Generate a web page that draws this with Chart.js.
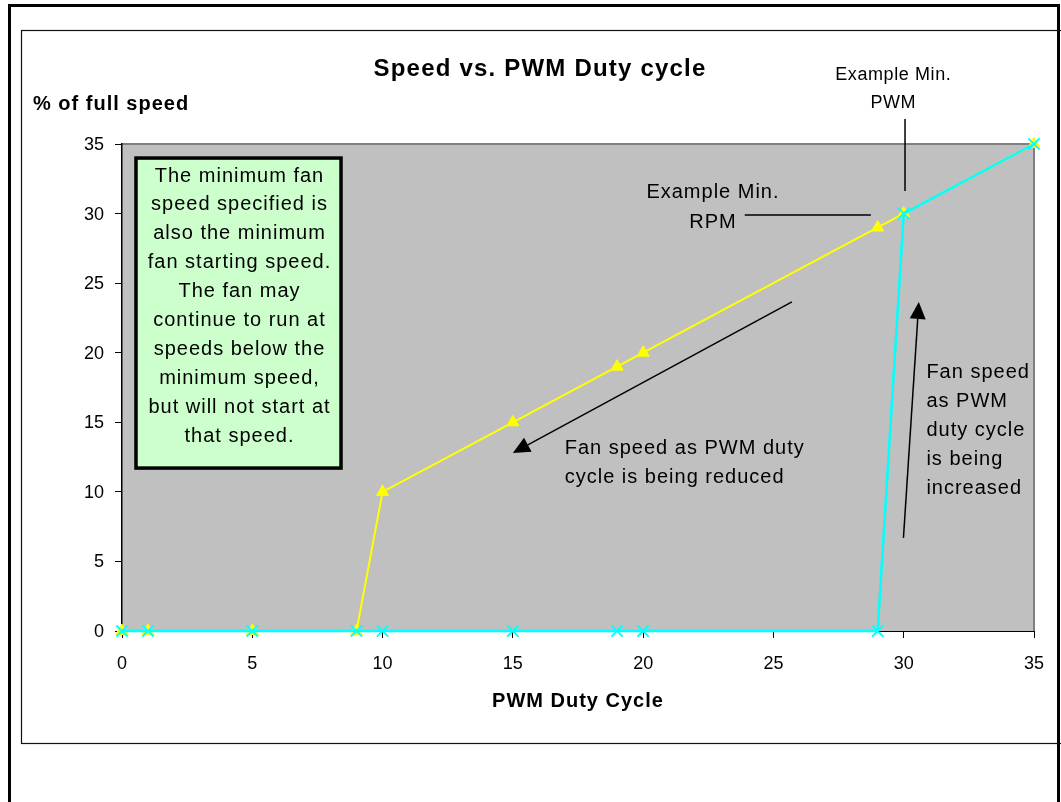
<!DOCTYPE html>
<html><head><meta charset="utf-8">
<script src="https://cdn.jsdelivr.net/npm/chart.js@4.4.0/dist/chart.umd.min.js"></script>
<style>html,body{margin:0;padding:0;background:#fff;overflow:hidden}</style>
</head><body>
<canvas id="c" width="1061" height="802" style="display:block;width:1061px;height:802px"></canvas>
<script>
// ---- data ----
const dutyCycle       = [0, 1, 5, 9, 10, 15, 19, 20, 29, 30, 35];
const speedReducing   = [0, 0, 0, 0, 10, 15, 19, 20, 29, 30, 35];
const speedIncreasing = [0, 0, 0, 0, 0,  0,  0,  0,  0,  30, 35];
const xTickValues = [0, 5, 10, 15, 20, 25, 30, 35];
const yTickValues = [0, 5, 10, 15, 20, 25, 30, 35];
const chartTitle = 'Speed vs. PWM Duty cycle';
const yTitle = '% of full speed';
const xTitle = 'PWM Duty Cycle';
const noteLines = ['The minimum fan','speed specified is','also the minimum','fan starting speed.','The fan may','continue to run at','speeds below the','minimum speed,','but will not start at','that speed.'];
const reducedLines = ['Fan speed as PWM duty','cycle is being reduced'];
const increasedLines = ['Fan speed','as PWM','duty cycle','is being','increased'];
const rpmLines = ['Example Min.','RPM'];
const pwmLines = ['Example Min.','PWM'];

const reducingPts = dutyCycle.map((x,i)=>({x:x,y:speedReducing[i]}));
const increasingPts = dutyCycle.map((x,i)=>({x:x,y:speedIncreasing[i]}));

function arrow(ctx,x1,y1,x2,y2){
  const ang=Math.atan2(y2-y1,x2-x1), L=17, W=8;
  const bx=x2-Math.cos(ang)*L, by=y2-Math.sin(ang)*L;
  ctx.strokeStyle='#000'; ctx.lineWidth=1.5;
  ctx.beginPath(); ctx.moveTo(x1,y1); ctx.lineTo(bx,by); ctx.stroke();
  ctx.fillStyle='#000';
  ctx.beginPath(); ctx.moveTo(x2,y2);
  ctx.lineTo(bx+Math.sin(ang)*W, by-Math.cos(ang)*W);
  ctx.lineTo(bx-Math.sin(ang)*W, by+Math.cos(ang)*W);
  ctx.closePath(); ctx.fill();
}

const decor = {
  id:'decor',
  beforeDraw(chart){
    const ctx=chart.ctx, a=chart.chartArea;
    ctx.save();
    ctx.fillStyle='#fff'; ctx.fillRect(0,0,chart.width,chart.height);
    // outer frame
    ctx.strokeStyle='#000'; ctx.lineWidth=3;
    ctx.beginPath(); ctx.moveTo(9.5,810); ctx.lineTo(9.5,5.5); ctx.lineTo(1058.5,5.5); ctx.lineTo(1058.5,810); ctx.stroke();
    // inner frame
    ctx.lineWidth=1.2; ctx.strokeStyle='#111';
    ctx.strokeRect(21.5,30.5,1060,713);
    // plot area
    ctx.fillStyle='#C0C0C0'; ctx.fillRect(a.left,a.top,a.right-a.left,a.bottom-a.top);
    ctx.strokeStyle='#808080'; ctx.lineWidth=2;
    ctx.beginPath(); ctx.moveTo(a.left,a.top); ctx.lineTo(a.right,a.top); ctx.lineTo(a.right,a.bottom); ctx.stroke();
    ctx.restore();
  },
  afterDraw(chart){
    const ctx=chart.ctx, a=chart.chartArea, xs=chart.scales.x, ys=chart.scales.y;
    const X=v=>xs.getPixelForValue(v), Y=v=>ys.getPixelForValue(v);
    ctx.save();
    ctx.fillStyle='#000'; ctx.textBaseline='middle';
    // tick labels
    ctx.font='18px "Liberation Sans", Arial, sans-serif';
    ctx.textAlign='right';
    yTickValues.forEach(v=>ctx.fillText(String(v), a.left-18, Y(v)+1));
    ctx.textAlign='center';
    xTickValues.forEach(v=>ctx.fillText(String(v), X(v), a.bottom+33));
    // titles
    ctx.letterSpacing='1.2px';
    ctx.font='bold 24px "Liberation Sans", Arial, sans-serif';
    ctx.textAlign='center';
    ctx.fillText(chartTitle, 540, 69);
    ctx.letterSpacing='1px';
    ctx.font='bold 20px "Liberation Sans", Arial, sans-serif';
    ctx.textAlign='left';
    ctx.fillText(yTitle, 33, 104);
    ctx.textAlign='center';
    ctx.fillText(xTitle, (a.left+a.right)/2, 701);
    // note box
    const bx0=X(0.537), bx1=X(8.405), by0=Y(33.99), by1=Y(11.71);
    ctx.fillStyle='#CCFFCC'; ctx.fillRect(bx0,by0,bx1-bx0,by1-by0);
    ctx.strokeStyle='#000'; ctx.lineWidth=3.5; ctx.strokeRect(bx0,by0,bx1-bx0,by1-by0);
    ctx.fillStyle='#000';
    ctx.font='20px "Liberation Sans", Arial, sans-serif';
    ctx.textAlign='center';
    noteLines.forEach((t,i)=>ctx.fillText(t,(bx0+bx1)/2+1, by0+18+i*28.9));
    // Example Min. RPM
    rpmLines.forEach((t,i)=>ctx.fillText(t, X(22.68), Y(31.49)+i*30));
    ctx.strokeStyle='#000'; ctx.lineWidth=1.5;
    ctx.beginPath(); ctx.moveTo(X(23.9),Y(29.9)); ctx.lineTo(X(28.74),Y(29.9)); ctx.stroke();
    // reduced arrow and text
    arrow(ctx, X(25.71),Y(23.65), X(15.0),Y(12.8));
    ctx.textAlign='left';
    reducedLines.forEach((t,i)=>ctx.fillText(t, X(16.99), Y(13.15)+i*29));
    // increased arrow and text
    arrow(ctx, X(29.99),Y(6.69), X(30.58),Y(23.65));
    increasedLines.forEach((t,i)=>ctx.fillText(t, X(30.87), Y(18.6)+i*29));
    // Example Min. PWM
    ctx.font='18px "Liberation Sans", Arial, sans-serif';
    ctx.letterSpacing='0.6px';
    ctx.textAlign='center';
    pwmLines.forEach((t,i)=>ctx.fillText(t, X(29.6), 75+i*28));
    ctx.strokeStyle='#000'; ctx.lineWidth=1.5;
    ctx.beginPath(); ctx.moveTo(X(30.05),119); ctx.lineTo(X(30.05),Y(31.63)); ctx.stroke();
    ctx.restore();
  }
};

new Chart(document.getElementById('c'),{
  type:'scatter',
  data:{datasets:[
    {label:'reducing', data:reducingPts, showLine:true, clip:false, borderColor:'#FFFF00', backgroundColor:'#FFFF00',
     borderWidth:2, pointStyle:'triangle', pointRadius:7, pointBorderWidth:1, pointBorderColor:'#FFFF00', pointBackgroundColor:'#FFFF00', order:2},
    {label:'increasing', data:increasingPts, showLine:true, clip:false, borderColor:'#00FFFF', backgroundColor:'#00FFFF',
     borderWidth:2.5, pointStyle:'crossRot', pointRadius:8, pointBorderWidth:2, pointBorderColor:'#00FFFF', order:1}
  ]},
  options:{
    responsive:false, animation:false, devicePixelRatio:1,
    layout:{padding:{left:0,right:27,top:144,bottom:131}},
    plugins:{legend:{display:false},title:{display:false},tooltip:{enabled:false}},
    scales:{
      x:{type:'linear', min:0, max:35,
         afterBuildTicks(s){ s.ticks = xTickValues.map(v=>({value:v})); },
         afterFit(s){ s.height=40; },
         ticks:{display:false},
         grid:{drawOnChartArea:false, drawTicks:true, tickLength:7, color:'#000', tickColor:'#000', lineWidth:1},
         border:{display:true, color:'#000', width:1}},
      y:{type:'linear', min:0, max:35,
         afterBuildTicks(s){ s.ticks = yTickValues.map(v=>({value:v})); },
         afterFit(s){ s.width=122; },
         ticks:{display:false},
         grid:{drawOnChartArea:false, drawTicks:true, tickLength:7, color:'#000', tickColor:'#000', lineWidth:1},
         border:{display:true, color:'#000', width:1.5}}
    }
  },
  plugins:[decor]
});
</script>
</body></html>
